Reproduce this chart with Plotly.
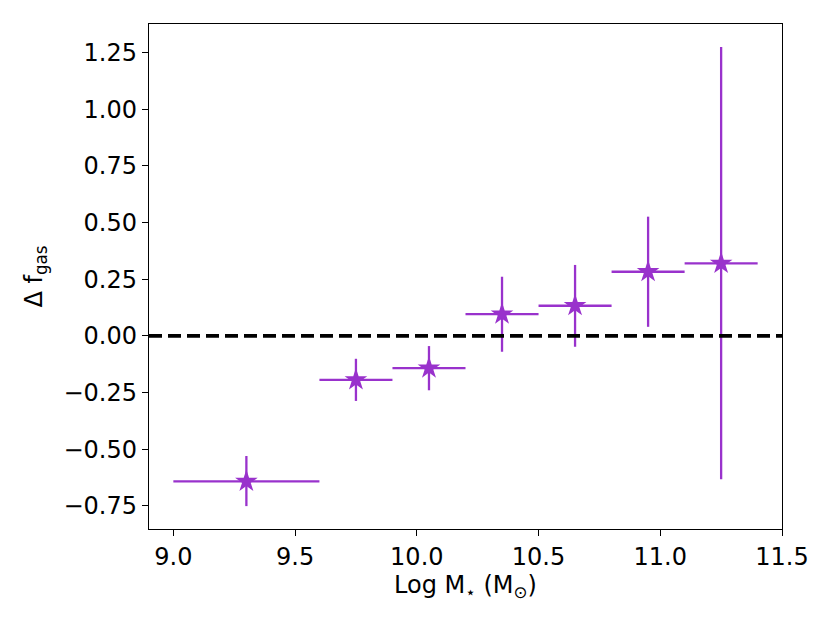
import plotly.graph_objects as go

log_mstar = [9.3, 9.75, 10.05, 10.35, 10.65, 10.95, 11.25]
x_halfwidth = [0.3, 0.15, 0.15, 0.15, 0.15, 0.15, 0.15]
delta_fgas = [-0.642, -0.194, -0.142, 0.096, 0.133, 0.283, 0.320]
err_plus = [0.112, 0.093, 0.097, 0.165, 0.180, 0.243, 0.955]
err_minus = [0.109, 0.093, 0.098, 0.166, 0.181, 0.243, 0.953]

x_ticks = [9.0, 9.5, 10.0, 10.5, 11.0, 11.5]
y_ticks = [-0.75, -0.5, -0.25, 0.0, 0.25, 0.5, 0.75, 1.0, 1.25]

color = "#9932CC"
font = "DejaVu Sans"

fig = go.Figure()
fig.add_trace(go.Scatter(
    x=log_mstar, y=delta_fgas, mode="markers",
    marker=dict(symbol="star", size=17, color=color, line=dict(width=0)),
    error_x=dict(type="data", array=x_halfwidth, symmetric=True, color=color, thickness=2.3, width=0),
    error_y=dict(type="data", array=err_plus, arrayminus=err_minus, symmetric=False,
                 color=color, thickness=2.3, width=0),
    showlegend=False,
))

fig.add_shape(type="line", xref="paper", x0=0, x1=1, yref="y", y0=0, y1=0,
              line=dict(color="black", width=3.6, dash="13px,6px"), layer="above")

axis_common = dict(
    showline=True, linecolor="black", linewidth=1.4, mirror=True,
    ticks="outside", ticklen=6, tickwidth=1.4, tickcolor="black",
    showgrid=False, zeroline=False,
    tickfont=dict(family=font, size=24, color="black"),
)

fig.update_layout(
    width=830, height=623,
    margin=dict(l=141, r=56, t=16, b=102),
    paper_bgcolor="white", plot_bgcolor="white",
    font=dict(family=font, color="black"),
    xaxis=dict(range=[8.9, 11.5], tickvals=x_ticks, tickformat=".1f",
               title=dict(text="Log M<sub>⋆</sub> (M<sub>⊙</sub>)", font=dict(family=font, size=24), standoff=0),
               **axis_common),
    yaxis=dict(range=[-0.852, 1.376], tickvals=y_ticks, tickformat=".2f",
               title=dict(text="Δ f<sub>gas</sub>", font=dict(family=font, size=24), standoff=14),
               **axis_common),
)

fig.write_html("out.html")
